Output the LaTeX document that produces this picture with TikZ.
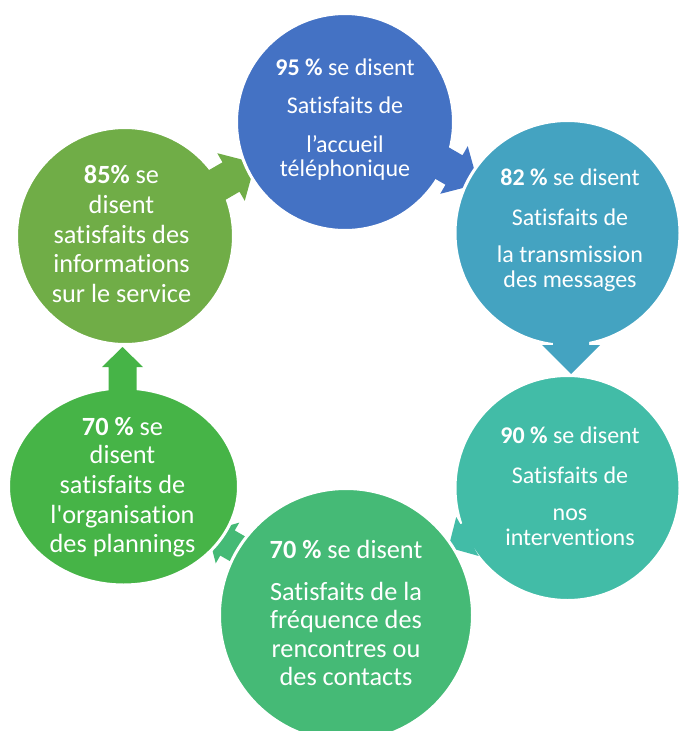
\documentclass[tikz,border=0pt]{standalone}
\usepackage{fontspec}
\newfontfamily\carl{Carlito}[Ligatures=NoCommon]
\usetikzlibrary{shapes.geometric}
\definecolor{cA}{RGB}{68,114,196}
\definecolor{cB}{RGB}{68,163,193}
\definecolor{cC}{RGB}{66,188,167}
\definecolor{cD}{RGB}{69,186,118}
\definecolor{cE}{RGB}{70,180,71}
\definecolor{cF}{RGB}{112,173,71}
\tikzset{
  bubble/.style={circle, inner sep=0pt, draw=white, line width=3pt},
  txtS/.style={anchor=base, inner sep=0pt, text=white, font=\carl\fontsize{24}{24}\selectfont},
  txtL/.style={anchor=base, inner sep=0pt, text=white, font=\carl\fontsize{26.3}{28}\selectfont},
}
% x y angle colour headlength headwidth stemwidth stemlength
\newcommand\blockarrow[8]{%
  \begin{scope}[shift={(#1,#2)}, rotate=#3]
    \fill[#4] (-#8,-#7/2) -- (0,-#7/2) -- (0,-#6/2) -- (#5,0) -- (0,#6/2) -- (0,#7/2) -- (-#8,#7/2) -- cycle;
  \end{scope}}
\begin{document}
\begin{tikzpicture}[x=1pt,y=-1pt]
\useasboundingbox (0,0) rectangle (678,731);
% drawing order: arrow, target bubble, ...
\blockarrow{227.5}{543}{150}{cD}{23}{47}{29}{50}
\node[ellipse, inner sep=0pt, draw=white, line width=3pt, fill=cE, minimum width=230pt, minimum height=197pt] (c5) at (123.5,486.5) {};
\blockarrow{122.5}{367}{90}{cE}{20}{41}{28}{35}
\node[bubble, fill=cF, minimum size=217pt] (c6) at (125,236) {};
\blockarrow{231}{177}{30}{cF}{28}{55}{34}{60}
\node[bubble, fill=cA, minimum size=217pt] (c1) at (345,122) {};
\blockarrow{454}{170}{-30}{cA}{28}{55}{34}{50}
\node[bubble, fill=cB, minimum size=225pt] (c2) at (567.5,233) {};
\blockarrow{571}{345}{-90}{cB}{29}{58}{36}{30}
\node[bubble, fill=cC, minimum size=225pt] (c3) at (567.5,488) {};
\blockarrow{467.5}{536.5}{-150}{cC}{22}{45}{28}{55}
\node[bubble, fill=cD, minimum size=253pt] (c4) at (346,615) {};
% texts
\node[txtS] (t1a) at (345,75) {\textbf{95 \%} se disent};
\node[txtS] (t1b) at (345,113) {Satisfaits de};
\node[txtS] (t1c) at (345,152) {l’accueil};
\node[txtS] (t1d) at (345,176) {téléphonique};
\node[txtS] (t2a) at (570,185) {\textbf{82 \%} se disent};
\node[txtS] (t2b) at (570,225) {Satisfaits de};
\node[txtS] (t2c) at (570,262) {la transmission};
\node[txtS] (t2d) at (570,287) {des messages};
\node[txtS] (t3a) at (570,443) {\textbf{90 \%} se disent};
\node[txtS] (t3b) at (570,483) {Satisfaits de};
\node[txtS] (t3c) at (570,520) {nos};
\node[txtS] (t3d) at (570,545) {interventions};
\node[txtL] (t4a) at (346,558) {\textbf{70 \%} se disent};
\node[txtL] (t4b) at (346,600) {Satisfaits de la};
\node[txtL] (t4c) at (346,628) {fréquence des};
\node[txtL] (t4d) at (346,657) {rencontres ou};
\node[txtL] (t4e) at (346,685) {des contacts};
\node[txtL] (t5a) at (122.5,435) {\textbf{70 \%} se};
\node[txtL] (t5b) at (122.5,463) {disent};
\node[txtL] (t5c) at (122.5,493) {satisfaits de};
\node[txtL] (t5d) at (122.5,523) {l'organisation};
\node[txtL] (t5e) at (122.5,552) {des plannings};
\node[txtL] (t6a) at (121.5,183) {\textbf{85\%} se};
\node[txtL] (t6b) at (121.5,213) {disent};
\node[txtL] (t6c) at (121.5,243) {satisfaits des};
\node[txtL] (t6d) at (121.5,272) {informations};
\node[txtL] (t6e) at (121.5,302) {sur le service};
\end{tikzpicture}
\end{document}
